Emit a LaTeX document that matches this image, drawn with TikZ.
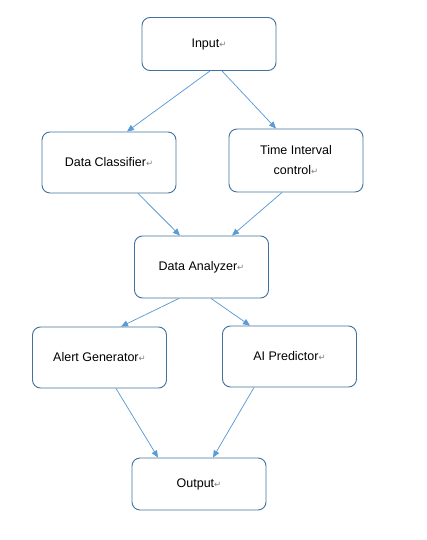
\documentclass[tikz,border=0pt]{standalone}
\usepackage{fontspec}
\setmainfont{Liberation Sans}
\newfontfamily\symfont{DejaVu Sans}
\usetikzlibrary{arrows.meta}
\definecolor{boxline}{HTML}{41719C}
\definecolor{flowline}{HTML}{5B9BD5}
\newcommand{\retmark}{{\symfont\fontsize{8.5}{8.5}\selectfont\textcolor{gray}{↵}}}
\tikzset{
  stage/.style={draw=boxline, line width=0.9pt, rounded corners=8pt,
    minimum width=134pt, minimum height=#1, inner sep=0pt, align=center,
    font=\fontsize{12.5}{20}\selectfont},
  stage/.default=61pt,
  flow/.style={draw=flowline, line width=0.75pt,
    -{Triangle[width=6pt,length=7pt]}}
}
\begin{document}
\begin{tikzpicture}[x=1pt,y=-1pt]
  \useasboundingbox (0,0) rectangle (426,540);
  % boxes
  \node[stage=53pt] (input) at (209,44) {Input\retmark};
  \node[stage=61pt] (classifier) at (109,162.5) {Data Classifier\retmark};
  \node[stage=63pt] (timectl) at (296,160.5) {Time Interval\\control\retmark};
  \node[stage=62pt] (analyzer) at (201.5,267) {Data Analyzer\retmark};
  \node[stage] (alert) at (99.5,357.5) {Alert Generator\retmark};
  \node[stage] (predictor) at (289.5,356.5) {AI Predictor\retmark};
  \node[stage=52pt] (output) at (199,484) {Output\retmark};
  % connectors
  \draw[flow] ([xshift=1pt]input.south) -- ([xshift=18pt]classifier.north);
  \draw[flow] ([xshift=13pt]input.south) -- ([xshift=-20pt]timectl.north);
  \draw[flow] ([xshift=29pt]classifier.south) -- ([xshift=-21.5pt]analyzer.north);
  \draw[flow] ([xshift=-14pt]timectl.south) -- ([xshift=30.5pt]analyzer.north);
  \draw[flow] ([xshift=-22.5pt]analyzer.south) -- ([xshift=21.5pt]alert.north);
  \draw[flow] ([xshift=9.5pt]analyzer.south) -- ([xshift=-39.5pt]predictor.north);
  \draw[flow] ([xshift=16.5pt]alert.south) -- ([xshift=-41pt]output.north);
  \draw[flow] ([xshift=-35.5pt]predictor.south) -- ([xshift=14pt]output.north);
\end{tikzpicture}
\end{document}
